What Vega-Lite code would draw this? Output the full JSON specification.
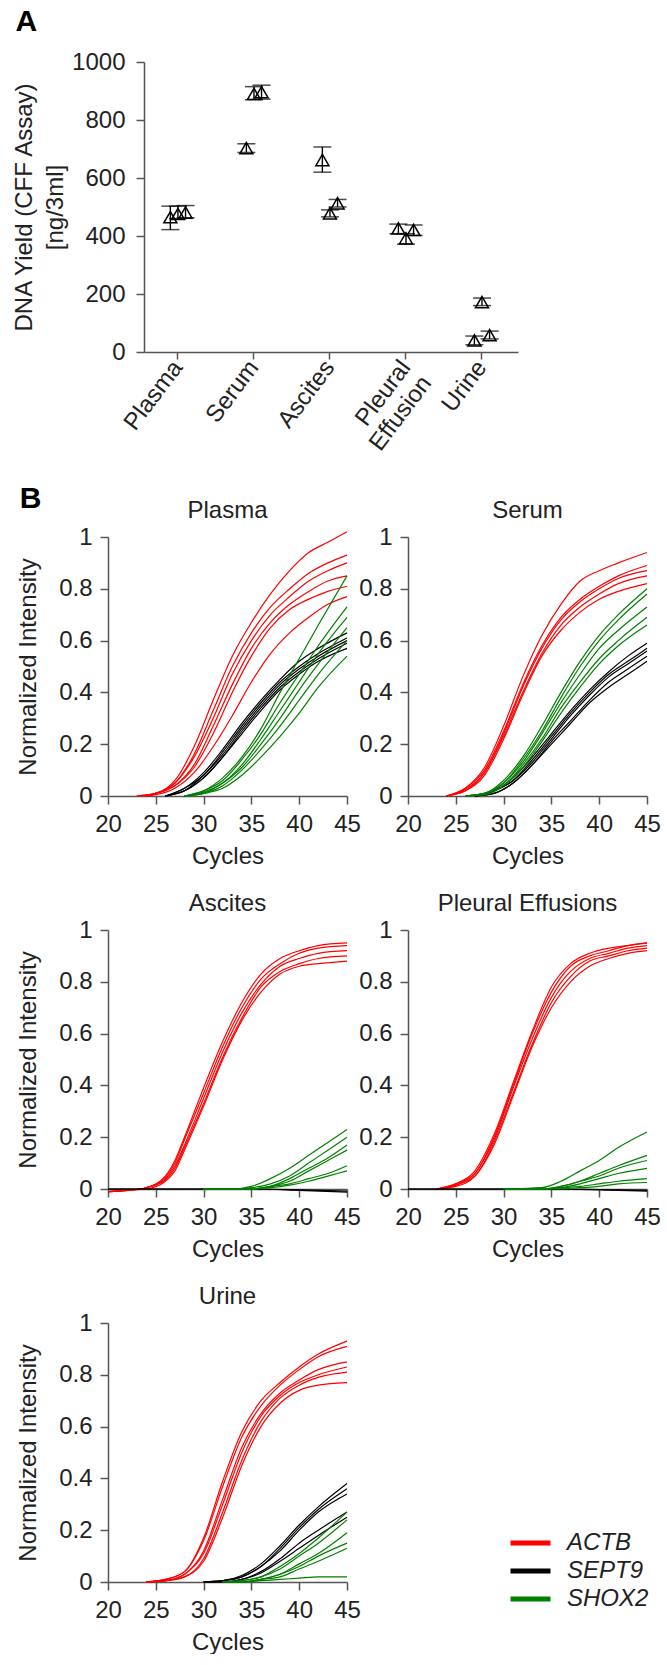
{
"$schema": "https://vega.github.io/schema/vega-lite/v6.json",
"padding": {"left": 12, "top": 7, "right": 0, "bottom": 0},
"background": "white",
"config": {
  "font": "Liberation Sans",
  "view": {"stroke": null},
  "axis": {"labelFontSize": 24, "titleFontSize": 24, "titleFontWeight": "normal", "labelColor": "#222", "titleColor": "#222", "domainColor": "#555", "tickColor": "#555", "domainWidth": 1.5, "tickWidth": 1.5, "tickSize": 8, "labelPadding": 8, "grid": false, "labelFlush": false, "labelOverlap": false},
  "title": {"fontSize": 24, "fontWeight": "normal", "color": "#222", "baseline": "alphabetic", "offset": 2}
},
"datasets": {
"yields": [
{"t":"Plasma","r":1,"m":465,"lo":422,"hi":503},
{"t":"Plasma","r":2,"m":476,"lo":460,"hi":503},
{"t":"Plasma","r":3,"m":481,"lo":463,"hi":505},
{"t":"Serum","r":1,"m":703,"lo":688,"hi":718},
{"t":"Serum","r":2,"m":890,"lo":870,"hi":915},
{"t":"Serum","r":3,"m":896,"lo":872,"hi":920},
{"t":"Ascites","r":1,"m":662,"lo":620,"hi":707},
{"t":"Ascites","r":2,"m":478,"lo":466,"hi":490},
{"t":"Ascites","r":3,"m":513,"lo":500,"hi":526},
{"t":"Pleural Effusion","r":1,"m":426,"lo":408,"hi":441},
{"t":"Pleural Effusion","r":2,"m":392,"lo":372,"hi":408},
{"t":"Pleural Effusion","r":3,"m":421,"lo":402,"hi":438},
{"t":"Urine","r":1,"m":40,"lo":25,"hi":55},
{"t":"Urine","r":2,"m":172,"lo":160,"hi":186},
{"t":"Urine","r":3,"m":58,"lo":45,"hi":72}
],
"curves": [
{"p":"Pl","g":"ACTB","k":1,"x":23,"y":0},{"p":"Pl","g":"ACTB","k":1,"x":25,"y":0.01},{"p":"Pl","g":"ACTB","k":1,"x":27,"y":0.06},{"p":"Pl","g":"ACTB","k":1,"x":29,"y":0.19},{"p":"Pl","g":"ACTB","k":1,"x":31,"y":0.37},{"p":"Pl","g":"ACTB","k":1,"x":33,"y":0.54},{"p":"Pl","g":"ACTB","k":1,"x":35,"y":0.67},{"p":"Pl","g":"ACTB","k":1,"x":37,"y":0.78},{"p":"Pl","g":"ACTB","k":1,"x":39,"y":0.87},{"p":"Pl","g":"ACTB","k":1,"x":41,"y":0.94},{"p":"Pl","g":"ACTB","k":1,"x":43,"y":0.98},{"p":"Pl","g":"ACTB","k":1,"x":45,"y":1.02},
{"p":"Pl","g":"ACTB","k":2,"x":23,"y":0},{"p":"Pl","g":"ACTB","k":2,"x":25,"y":0.01},{"p":"Pl","g":"ACTB","k":2,"x":27,"y":0.05},{"p":"Pl","g":"ACTB","k":2,"x":29,"y":0.16},{"p":"Pl","g":"ACTB","k":2,"x":31,"y":0.33},{"p":"Pl","g":"ACTB","k":2,"x":33,"y":0.5},{"p":"Pl","g":"ACTB","k":2,"x":35,"y":0.63},{"p":"Pl","g":"ACTB","k":2,"x":37,"y":0.73},{"p":"Pl","g":"ACTB","k":2,"x":39,"y":0.8},{"p":"Pl","g":"ACTB","k":2,"x":41,"y":0.86},{"p":"Pl","g":"ACTB","k":2,"x":43,"y":0.9},{"p":"Pl","g":"ACTB","k":2,"x":45,"y":0.93},
{"p":"Pl","g":"ACTB","k":3,"x":23.5,"y":0},{"p":"Pl","g":"ACTB","k":3,"x":25,"y":0.01},{"p":"Pl","g":"ACTB","k":3,"x":27,"y":0.05},{"p":"Pl","g":"ACTB","k":3,"x":29,"y":0.15},{"p":"Pl","g":"ACTB","k":3,"x":31,"y":0.3},{"p":"Pl","g":"ACTB","k":3,"x":33,"y":0.47},{"p":"Pl","g":"ACTB","k":3,"x":35,"y":0.6},{"p":"Pl","g":"ACTB","k":3,"x":37,"y":0.7},{"p":"Pl","g":"ACTB","k":3,"x":39,"y":0.77},{"p":"Pl","g":"ACTB","k":3,"x":41,"y":0.83},{"p":"Pl","g":"ACTB","k":3,"x":43,"y":0.87},{"p":"Pl","g":"ACTB","k":3,"x":45,"y":0.9},
{"p":"Pl","g":"ACTB","k":4,"x":24,"y":0},{"p":"Pl","g":"ACTB","k":4,"x":25,"y":0.01},{"p":"Pl","g":"ACTB","k":4,"x":27,"y":0.04},{"p":"Pl","g":"ACTB","k":4,"x":29,"y":0.12},{"p":"Pl","g":"ACTB","k":4,"x":31,"y":0.27},{"p":"Pl","g":"ACTB","k":4,"x":33,"y":0.43},{"p":"Pl","g":"ACTB","k":4,"x":35,"y":0.57},{"p":"Pl","g":"ACTB","k":4,"x":37,"y":0.67},{"p":"Pl","g":"ACTB","k":4,"x":39,"y":0.74},{"p":"Pl","g":"ACTB","k":4,"x":41,"y":0.79},{"p":"Pl","g":"ACTB","k":4,"x":43,"y":0.83},{"p":"Pl","g":"ACTB","k":4,"x":45,"y":0.85},
{"p":"Pl","g":"ACTB","k":5,"x":24,"y":0},{"p":"Pl","g":"ACTB","k":5,"x":25,"y":0.01},{"p":"Pl","g":"ACTB","k":5,"x":27,"y":0.04},{"p":"Pl","g":"ACTB","k":5,"x":29,"y":0.11},{"p":"Pl","g":"ACTB","k":5,"x":31,"y":0.24},{"p":"Pl","g":"ACTB","k":5,"x":33,"y":0.4},{"p":"Pl","g":"ACTB","k":5,"x":35,"y":0.54},{"p":"Pl","g":"ACTB","k":5,"x":37,"y":0.65},{"p":"Pl","g":"ACTB","k":5,"x":39,"y":0.72},{"p":"Pl","g":"ACTB","k":5,"x":41,"y":0.76},{"p":"Pl","g":"ACTB","k":5,"x":43,"y":0.79},{"p":"Pl","g":"ACTB","k":5,"x":45,"y":0.81},
{"p":"Pl","g":"ACTB","k":6,"x":24,"y":0},{"p":"Pl","g":"ACTB","k":6,"x":25,"y":0.005},{"p":"Pl","g":"ACTB","k":6,"x":27,"y":0.03},{"p":"Pl","g":"ACTB","k":6,"x":29,"y":0.09},{"p":"Pl","g":"ACTB","k":6,"x":31,"y":0.19},{"p":"Pl","g":"ACTB","k":6,"x":33,"y":0.31},{"p":"Pl","g":"ACTB","k":6,"x":35,"y":0.44},{"p":"Pl","g":"ACTB","k":6,"x":37,"y":0.55},{"p":"Pl","g":"ACTB","k":6,"x":39,"y":0.63},{"p":"Pl","g":"ACTB","k":6,"x":41,"y":0.69},{"p":"Pl","g":"ACTB","k":6,"x":43,"y":0.74},{"p":"Pl","g":"ACTB","k":6,"x":45,"y":0.77},
{"p":"Pl","g":"SEPT9","k":1,"x":26,"y":0},{"p":"Pl","g":"SEPT9","k":1,"x":28,"y":0.03},{"p":"Pl","g":"SEPT9","k":1,"x":30,"y":0.09},{"p":"Pl","g":"SEPT9","k":1,"x":32,"y":0.18},{"p":"Pl","g":"SEPT9","k":1,"x":34,"y":0.28},{"p":"Pl","g":"SEPT9","k":1,"x":36,"y":0.37},{"p":"Pl","g":"SEPT9","k":1,"x":38,"y":0.45},{"p":"Pl","g":"SEPT9","k":1,"x":40,"y":0.52},{"p":"Pl","g":"SEPT9","k":1,"x":42,"y":0.57},{"p":"Pl","g":"SEPT9","k":1,"x":45,"y":0.63},
{"p":"Pl","g":"SEPT9","k":2,"x":26,"y":0},{"p":"Pl","g":"SEPT9","k":2,"x":28,"y":0.03},{"p":"Pl","g":"SEPT9","k":2,"x":30,"y":0.08},{"p":"Pl","g":"SEPT9","k":2,"x":32,"y":0.17},{"p":"Pl","g":"SEPT9","k":2,"x":34,"y":0.27},{"p":"Pl","g":"SEPT9","k":2,"x":36,"y":0.36},{"p":"Pl","g":"SEPT9","k":2,"x":38,"y":0.44},{"p":"Pl","g":"SEPT9","k":2,"x":40,"y":0.5},{"p":"Pl","g":"SEPT9","k":2,"x":42,"y":0.55},{"p":"Pl","g":"SEPT9","k":2,"x":45,"y":0.61},
{"p":"Pl","g":"SEPT9","k":3,"x":26,"y":0},{"p":"Pl","g":"SEPT9","k":3,"x":28,"y":0.02},{"p":"Pl","g":"SEPT9","k":3,"x":30,"y":0.08},{"p":"Pl","g":"SEPT9","k":3,"x":32,"y":0.16},{"p":"Pl","g":"SEPT9","k":3,"x":34,"y":0.26},{"p":"Pl","g":"SEPT9","k":3,"x":36,"y":0.35},{"p":"Pl","g":"SEPT9","k":3,"x":38,"y":0.43},{"p":"Pl","g":"SEPT9","k":3,"x":40,"y":0.49},{"p":"Pl","g":"SEPT9","k":3,"x":42,"y":0.54},{"p":"Pl","g":"SEPT9","k":3,"x":45,"y":0.6},
{"p":"Pl","g":"SEPT9","k":4,"x":26,"y":0},{"p":"Pl","g":"SEPT9","k":4,"x":28,"y":0.02},{"p":"Pl","g":"SEPT9","k":4,"x":30,"y":0.07},{"p":"Pl","g":"SEPT9","k":4,"x":32,"y":0.15},{"p":"Pl","g":"SEPT9","k":4,"x":34,"y":0.24},{"p":"Pl","g":"SEPT9","k":4,"x":36,"y":0.33},{"p":"Pl","g":"SEPT9","k":4,"x":38,"y":0.41},{"p":"Pl","g":"SEPT9","k":4,"x":40,"y":0.47},{"p":"Pl","g":"SEPT9","k":4,"x":42,"y":0.52},{"p":"Pl","g":"SEPT9","k":4,"x":45,"y":0.57},
{"p":"Pl","g":"SEPT9","k":5,"x":26,"y":0},{"p":"Pl","g":"SEPT9","k":5,"x":28,"y":0.02},{"p":"Pl","g":"SEPT9","k":5,"x":30,"y":0.07},{"p":"Pl","g":"SEPT9","k":5,"x":32,"y":0.15},{"p":"Pl","g":"SEPT9","k":5,"x":34,"y":0.25},{"p":"Pl","g":"SEPT9","k":5,"x":36,"y":0.34},{"p":"Pl","g":"SEPT9","k":5,"x":38,"y":0.42},{"p":"Pl","g":"SEPT9","k":5,"x":40,"y":0.48},{"p":"Pl","g":"SEPT9","k":5,"x":42,"y":0.53},{"p":"Pl","g":"SEPT9","k":5,"x":45,"y":0.59},
{"p":"Pl","g":"SHOX2","k":1,"x":28,"y":0},{"p":"Pl","g":"SHOX2","k":1,"x":30,"y":0.02},{"p":"Pl","g":"SHOX2","k":1,"x":32,"y":0.07},{"p":"Pl","g":"SHOX2","k":1,"x":34,"y":0.15},{"p":"Pl","g":"SHOX2","k":1,"x":36,"y":0.26},{"p":"Pl","g":"SHOX2","k":1,"x":38,"y":0.4},{"p":"Pl","g":"SHOX2","k":1,"x":40,"y":0.53},{"p":"Pl","g":"SHOX2","k":1,"x":42,"y":0.66},{"p":"Pl","g":"SHOX2","k":1,"x":45,"y":0.85},
{"p":"Pl","g":"SHOX2","k":2,"x":28,"y":0},{"p":"Pl","g":"SHOX2","k":2,"x":30,"y":0.02},{"p":"Pl","g":"SHOX2","k":2,"x":32,"y":0.06},{"p":"Pl","g":"SHOX2","k":2,"x":34,"y":0.14},{"p":"Pl","g":"SHOX2","k":2,"x":36,"y":0.24},{"p":"Pl","g":"SHOX2","k":2,"x":38,"y":0.36},{"p":"Pl","g":"SHOX2","k":2,"x":40,"y":0.47},{"p":"Pl","g":"SHOX2","k":2,"x":42,"y":0.58},{"p":"Pl","g":"SHOX2","k":2,"x":45,"y":0.73},
{"p":"Pl","g":"SHOX2","k":3,"x":28,"y":0},{"p":"Pl","g":"SHOX2","k":3,"x":30,"y":0.015},{"p":"Pl","g":"SHOX2","k":3,"x":32,"y":0.05},{"p":"Pl","g":"SHOX2","k":3,"x":34,"y":0.12},{"p":"Pl","g":"SHOX2","k":3,"x":36,"y":0.22},{"p":"Pl","g":"SHOX2","k":3,"x":38,"y":0.33},{"p":"Pl","g":"SHOX2","k":3,"x":40,"y":0.44},{"p":"Pl","g":"SHOX2","k":3,"x":42,"y":0.55},{"p":"Pl","g":"SHOX2","k":3,"x":45,"y":0.69},
{"p":"Pl","g":"SHOX2","k":4,"x":28,"y":0},{"p":"Pl","g":"SHOX2","k":4,"x":30,"y":0.01},{"p":"Pl","g":"SHOX2","k":4,"x":32,"y":0.05},{"p":"Pl","g":"SHOX2","k":4,"x":34,"y":0.11},{"p":"Pl","g":"SHOX2","k":4,"x":36,"y":0.2},{"p":"Pl","g":"SHOX2","k":4,"x":38,"y":0.3},{"p":"Pl","g":"SHOX2","k":4,"x":40,"y":0.41},{"p":"Pl","g":"SHOX2","k":4,"x":42,"y":0.51},{"p":"Pl","g":"SHOX2","k":4,"x":45,"y":0.65},
{"p":"Pl","g":"SHOX2","k":5,"x":28,"y":0},{"p":"Pl","g":"SHOX2","k":5,"x":30,"y":0.01},{"p":"Pl","g":"SHOX2","k":5,"x":32,"y":0.04},{"p":"Pl","g":"SHOX2","k":5,"x":34,"y":0.1},{"p":"Pl","g":"SHOX2","k":5,"x":36,"y":0.18},{"p":"Pl","g":"SHOX2","k":5,"x":38,"y":0.27},{"p":"Pl","g":"SHOX2","k":5,"x":40,"y":0.37},{"p":"Pl","g":"SHOX2","k":5,"x":42,"y":0.47},{"p":"Pl","g":"SHOX2","k":5,"x":45,"y":0.6},
{"p":"Pl","g":"SHOX2","k":6,"x":28,"y":0},{"p":"Pl","g":"SHOX2","k":6,"x":30,"y":0.01},{"p":"Pl","g":"SHOX2","k":6,"x":32,"y":0.03},{"p":"Pl","g":"SHOX2","k":6,"x":34,"y":0.08},{"p":"Pl","g":"SHOX2","k":6,"x":36,"y":0.15},{"p":"Pl","g":"SHOX2","k":6,"x":38,"y":0.23},{"p":"Pl","g":"SHOX2","k":6,"x":40,"y":0.32},{"p":"Pl","g":"SHOX2","k":6,"x":42,"y":0.42},{"p":"Pl","g":"SHOX2","k":6,"x":45,"y":0.54},
{"p":"Se","g":"ACTB","k":1,"x":24,"y":0},{"p":"Se","g":"ACTB","k":1,"x":26,"y":0.03},{"p":"Se","g":"ACTB","k":1,"x":28,"y":0.11},{"p":"Se","g":"ACTB","k":1,"x":30,"y":0.27},{"p":"Se","g":"ACTB","k":1,"x":32,"y":0.46},{"p":"Se","g":"ACTB","k":1,"x":34,"y":0.62},{"p":"Se","g":"ACTB","k":1,"x":36,"y":0.74},{"p":"Se","g":"ACTB","k":1,"x":38,"y":0.83},{"p":"Se","g":"ACTB","k":1,"x":40,"y":0.87},{"p":"Se","g":"ACTB","k":1,"x":42,"y":0.9},{"p":"Se","g":"ACTB","k":1,"x":45,"y":0.94},
{"p":"Se","g":"ACTB","k":2,"x":24,"y":0},{"p":"Se","g":"ACTB","k":2,"x":26,"y":0.03},{"p":"Se","g":"ACTB","k":2,"x":28,"y":0.1},{"p":"Se","g":"ACTB","k":2,"x":30,"y":0.25},{"p":"Se","g":"ACTB","k":2,"x":32,"y":0.43},{"p":"Se","g":"ACTB","k":2,"x":34,"y":0.58},{"p":"Se","g":"ACTB","k":2,"x":36,"y":0.69},{"p":"Se","g":"ACTB","k":2,"x":38,"y":0.76},{"p":"Se","g":"ACTB","k":2,"x":40,"y":0.81},{"p":"Se","g":"ACTB","k":2,"x":42,"y":0.85},{"p":"Se","g":"ACTB","k":2,"x":45,"y":0.89},
{"p":"Se","g":"ACTB","k":3,"x":24,"y":0},{"p":"Se","g":"ACTB","k":3,"x":26,"y":0.025},{"p":"Se","g":"ACTB","k":3,"x":28,"y":0.09},{"p":"Se","g":"ACTB","k":3,"x":30,"y":0.24},{"p":"Se","g":"ACTB","k":3,"x":32,"y":0.42},{"p":"Se","g":"ACTB","k":3,"x":34,"y":0.57},{"p":"Se","g":"ACTB","k":3,"x":36,"y":0.68},{"p":"Se","g":"ACTB","k":3,"x":38,"y":0.75},{"p":"Se","g":"ACTB","k":3,"x":40,"y":0.8},{"p":"Se","g":"ACTB","k":3,"x":42,"y":0.84},{"p":"Se","g":"ACTB","k":3,"x":45,"y":0.87},
{"p":"Se","g":"ACTB","k":4,"x":24,"y":0},{"p":"Se","g":"ACTB","k":4,"x":26,"y":0.02},{"p":"Se","g":"ACTB","k":4,"x":28,"y":0.09},{"p":"Se","g":"ACTB","k":4,"x":30,"y":0.23},{"p":"Se","g":"ACTB","k":4,"x":32,"y":0.4},{"p":"Se","g":"ACTB","k":4,"x":34,"y":0.55},{"p":"Se","g":"ACTB","k":4,"x":36,"y":0.66},{"p":"Se","g":"ACTB","k":4,"x":38,"y":0.73},{"p":"Se","g":"ACTB","k":4,"x":40,"y":0.78},{"p":"Se","g":"ACTB","k":4,"x":42,"y":0.82},{"p":"Se","g":"ACTB","k":4,"x":45,"y":0.85},
{"p":"Se","g":"ACTB","k":5,"x":24,"y":0},{"p":"Se","g":"ACTB","k":5,"x":26,"y":0.02},{"p":"Se","g":"ACTB","k":5,"x":28,"y":0.08},{"p":"Se","g":"ACTB","k":5,"x":30,"y":0.22},{"p":"Se","g":"ACTB","k":5,"x":32,"y":0.39},{"p":"Se","g":"ACTB","k":5,"x":34,"y":0.54},{"p":"Se","g":"ACTB","k":5,"x":36,"y":0.64},{"p":"Se","g":"ACTB","k":5,"x":38,"y":0.71},{"p":"Se","g":"ACTB","k":5,"x":40,"y":0.76},{"p":"Se","g":"ACTB","k":5,"x":42,"y":0.79},{"p":"Se","g":"ACTB","k":5,"x":45,"y":0.82},
{"p":"Se","g":"SEPT9","k":1,"x":27,"y":0},{"p":"Se","g":"SEPT9","k":1,"x":29,"y":0.02},{"p":"Se","g":"SEPT9","k":1,"x":31,"y":0.07},{"p":"Se","g":"SEPT9","k":1,"x":33,"y":0.15},{"p":"Se","g":"SEPT9","k":1,"x":35,"y":0.24},{"p":"Se","g":"SEPT9","k":1,"x":37,"y":0.33},{"p":"Se","g":"SEPT9","k":1,"x":39,"y":0.41},{"p":"Se","g":"SEPT9","k":1,"x":41,"y":0.48},{"p":"Se","g":"SEPT9","k":1,"x":43,"y":0.54},{"p":"Se","g":"SEPT9","k":1,"x":45,"y":0.59},
{"p":"Se","g":"SEPT9","k":2,"x":27,"y":0},{"p":"Se","g":"SEPT9","k":2,"x":29,"y":0.02},{"p":"Se","g":"SEPT9","k":2,"x":31,"y":0.06},{"p":"Se","g":"SEPT9","k":2,"x":33,"y":0.14},{"p":"Se","g":"SEPT9","k":2,"x":35,"y":0.23},{"p":"Se","g":"SEPT9","k":2,"x":37,"y":0.32},{"p":"Se","g":"SEPT9","k":2,"x":39,"y":0.4},{"p":"Se","g":"SEPT9","k":2,"x":41,"y":0.47},{"p":"Se","g":"SEPT9","k":2,"x":43,"y":0.52},{"p":"Se","g":"SEPT9","k":2,"x":45,"y":0.57},
{"p":"Se","g":"SEPT9","k":3,"x":27,"y":0},{"p":"Se","g":"SEPT9","k":3,"x":29,"y":0.02},{"p":"Se","g":"SEPT9","k":3,"x":31,"y":0.06},{"p":"Se","g":"SEPT9","k":3,"x":33,"y":0.13},{"p":"Se","g":"SEPT9","k":3,"x":35,"y":0.22},{"p":"Se","g":"SEPT9","k":3,"x":37,"y":0.31},{"p":"Se","g":"SEPT9","k":3,"x":39,"y":0.39},{"p":"Se","g":"SEPT9","k":3,"x":41,"y":0.46},{"p":"Se","g":"SEPT9","k":3,"x":43,"y":0.51},{"p":"Se","g":"SEPT9","k":3,"x":45,"y":0.56},
{"p":"Se","g":"SEPT9","k":4,"x":27,"y":0},{"p":"Se","g":"SEPT9","k":4,"x":29,"y":0.01},{"p":"Se","g":"SEPT9","k":4,"x":31,"y":0.05},{"p":"Se","g":"SEPT9","k":4,"x":33,"y":0.12},{"p":"Se","g":"SEPT9","k":4,"x":35,"y":0.21},{"p":"Se","g":"SEPT9","k":4,"x":37,"y":0.29},{"p":"Se","g":"SEPT9","k":4,"x":39,"y":0.37},{"p":"Se","g":"SEPT9","k":4,"x":41,"y":0.44},{"p":"Se","g":"SEPT9","k":4,"x":43,"y":0.49},{"p":"Se","g":"SEPT9","k":4,"x":45,"y":0.54},
{"p":"Se","g":"SEPT9","k":5,"x":27,"y":0},{"p":"Se","g":"SEPT9","k":5,"x":29,"y":0.01},{"p":"Se","g":"SEPT9","k":5,"x":31,"y":0.05},{"p":"Se","g":"SEPT9","k":5,"x":33,"y":0.12},{"p":"Se","g":"SEPT9","k":5,"x":35,"y":0.2},{"p":"Se","g":"SEPT9","k":5,"x":37,"y":0.28},{"p":"Se","g":"SEPT9","k":5,"x":39,"y":0.36},{"p":"Se","g":"SEPT9","k":5,"x":41,"y":0.42},{"p":"Se","g":"SEPT9","k":5,"x":43,"y":0.47},{"p":"Se","g":"SEPT9","k":5,"x":45,"y":0.52},
{"p":"Se","g":"SHOX2","k":1,"x":26,"y":0},{"p":"Se","g":"SHOX2","k":1,"x":28,"y":0.01},{"p":"Se","g":"SHOX2","k":1,"x":30,"y":0.06},{"p":"Se","g":"SHOX2","k":1,"x":32,"y":0.15},{"p":"Se","g":"SHOX2","k":1,"x":34,"y":0.27},{"p":"Se","g":"SHOX2","k":1,"x":36,"y":0.4},{"p":"Se","g":"SHOX2","k":1,"x":38,"y":0.52},{"p":"Se","g":"SHOX2","k":1,"x":40,"y":0.62},{"p":"Se","g":"SHOX2","k":1,"x":42,"y":0.7},{"p":"Se","g":"SHOX2","k":1,"x":45,"y":0.8},
{"p":"Se","g":"SHOX2","k":2,"x":26,"y":0},{"p":"Se","g":"SHOX2","k":2,"x":28,"y":0.01},{"p":"Se","g":"SHOX2","k":2,"x":30,"y":0.05},{"p":"Se","g":"SHOX2","k":2,"x":32,"y":0.14},{"p":"Se","g":"SHOX2","k":2,"x":34,"y":0.25},{"p":"Se","g":"SHOX2","k":2,"x":36,"y":0.38},{"p":"Se","g":"SHOX2","k":2,"x":38,"y":0.5},{"p":"Se","g":"SHOX2","k":2,"x":40,"y":0.6},{"p":"Se","g":"SHOX2","k":2,"x":42,"y":0.68},{"p":"Se","g":"SHOX2","k":2,"x":45,"y":0.78},
{"p":"Se","g":"SHOX2","k":3,"x":26,"y":0},{"p":"Se","g":"SHOX2","k":3,"x":28,"y":0.01},{"p":"Se","g":"SHOX2","k":3,"x":30,"y":0.05},{"p":"Se","g":"SHOX2","k":3,"x":32,"y":0.13},{"p":"Se","g":"SHOX2","k":3,"x":34,"y":0.24},{"p":"Se","g":"SHOX2","k":3,"x":36,"y":0.36},{"p":"Se","g":"SHOX2","k":3,"x":38,"y":0.47},{"p":"Se","g":"SHOX2","k":3,"x":40,"y":0.57},{"p":"Se","g":"SHOX2","k":3,"x":42,"y":0.64},{"p":"Se","g":"SHOX2","k":3,"x":45,"y":0.73},
{"p":"Se","g":"SHOX2","k":4,"x":26,"y":0},{"p":"Se","g":"SHOX2","k":4,"x":28,"y":0.01},{"p":"Se","g":"SHOX2","k":4,"x":30,"y":0.04},{"p":"Se","g":"SHOX2","k":4,"x":32,"y":0.12},{"p":"Se","g":"SHOX2","k":4,"x":34,"y":0.22},{"p":"Se","g":"SHOX2","k":4,"x":36,"y":0.34},{"p":"Se","g":"SHOX2","k":4,"x":38,"y":0.44},{"p":"Se","g":"SHOX2","k":4,"x":40,"y":0.53},{"p":"Se","g":"SHOX2","k":4,"x":42,"y":0.6},{"p":"Se","g":"SHOX2","k":4,"x":45,"y":0.69},
{"p":"Se","g":"SHOX2","k":5,"x":26,"y":0},{"p":"Se","g":"SHOX2","k":5,"x":28,"y":0.005},{"p":"Se","g":"SHOX2","k":5,"x":30,"y":0.04},{"p":"Se","g":"SHOX2","k":5,"x":32,"y":0.11},{"p":"Se","g":"SHOX2","k":5,"x":34,"y":0.21},{"p":"Se","g":"SHOX2","k":5,"x":36,"y":0.32},{"p":"Se","g":"SHOX2","k":5,"x":38,"y":0.42},{"p":"Se","g":"SHOX2","k":5,"x":40,"y":0.51},{"p":"Se","g":"SHOX2","k":5,"x":42,"y":0.58},{"p":"Se","g":"SHOX2","k":5,"x":45,"y":0.66},
{"p":"As","g":"ACTB","k":1,"x":20,"y":-0.01},{"p":"As","g":"ACTB","k":1,"x":22,"y":-0.005},{"p":"As","g":"ACTB","k":1,"x":24,"y":0.005},{"p":"As","g":"ACTB","k":1,"x":26,"y":0.05},{"p":"As","g":"ACTB","k":1,"x":27,"y":0.11},{"p":"As","g":"ACTB","k":1,"x":28,"y":0.2},{"p":"As","g":"ACTB","k":1,"x":30,"y":0.39},{"p":"As","g":"ACTB","k":1,"x":32,"y":0.57},{"p":"As","g":"ACTB","k":1,"x":34,"y":0.72},{"p":"As","g":"ACTB","k":1,"x":36,"y":0.83},{"p":"As","g":"ACTB","k":1,"x":38,"y":0.89},{"p":"As","g":"ACTB","k":1,"x":40,"y":0.92},{"p":"As","g":"ACTB","k":1,"x":42,"y":0.94},{"p":"As","g":"ACTB","k":1,"x":45,"y":0.95},
{"p":"As","g":"ACTB","k":2,"x":20,"y":-0.01},{"p":"As","g":"ACTB","k":2,"x":22,"y":-0.005},{"p":"As","g":"ACTB","k":2,"x":24,"y":0.005},{"p":"As","g":"ACTB","k":2,"x":26,"y":0.045},{"p":"As","g":"ACTB","k":2,"x":27,"y":0.1},{"p":"As","g":"ACTB","k":2,"x":28,"y":0.19},{"p":"As","g":"ACTB","k":2,"x":30,"y":0.37},{"p":"As","g":"ACTB","k":2,"x":32,"y":0.55},{"p":"As","g":"ACTB","k":2,"x":34,"y":0.7},{"p":"As","g":"ACTB","k":2,"x":36,"y":0.81},{"p":"As","g":"ACTB","k":2,"x":38,"y":0.87},{"p":"As","g":"ACTB","k":2,"x":40,"y":0.91},{"p":"As","g":"ACTB","k":2,"x":42,"y":0.93},{"p":"As","g":"ACTB","k":2,"x":45,"y":0.94},
{"p":"As","g":"ACTB","k":3,"x":20,"y":-0.01},{"p":"As","g":"ACTB","k":3,"x":22,"y":-0.005},{"p":"As","g":"ACTB","k":3,"x":24,"y":0.005},{"p":"As","g":"ACTB","k":3,"x":26,"y":0.04},{"p":"As","g":"ACTB","k":3,"x":27,"y":0.09},{"p":"As","g":"ACTB","k":3,"x":28,"y":0.17},{"p":"As","g":"ACTB","k":3,"x":30,"y":0.35},{"p":"As","g":"ACTB","k":3,"x":32,"y":0.53},{"p":"As","g":"ACTB","k":3,"x":34,"y":0.68},{"p":"As","g":"ACTB","k":3,"x":36,"y":0.79},{"p":"As","g":"ACTB","k":3,"x":38,"y":0.86},{"p":"As","g":"ACTB","k":3,"x":40,"y":0.89},{"p":"As","g":"ACTB","k":3,"x":42,"y":0.91},{"p":"As","g":"ACTB","k":3,"x":45,"y":0.92},
{"p":"As","g":"ACTB","k":4,"x":20,"y":-0.01},{"p":"As","g":"ACTB","k":4,"x":22,"y":-0.005},{"p":"As","g":"ACTB","k":4,"x":24,"y":0.005},{"p":"As","g":"ACTB","k":4,"x":26,"y":0.035},{"p":"As","g":"ACTB","k":4,"x":27,"y":0.08},{"p":"As","g":"ACTB","k":4,"x":28,"y":0.16},{"p":"As","g":"ACTB","k":4,"x":30,"y":0.33},{"p":"As","g":"ACTB","k":4,"x":32,"y":0.51},{"p":"As","g":"ACTB","k":4,"x":34,"y":0.66},{"p":"As","g":"ACTB","k":4,"x":36,"y":0.78},{"p":"As","g":"ACTB","k":4,"x":38,"y":0.84},{"p":"As","g":"ACTB","k":4,"x":40,"y":0.87},{"p":"As","g":"ACTB","k":4,"x":42,"y":0.89},{"p":"As","g":"ACTB","k":4,"x":45,"y":0.9},
{"p":"As","g":"ACTB","k":5,"x":20,"y":-0.01},{"p":"As","g":"ACTB","k":5,"x":22,"y":-0.005},{"p":"As","g":"ACTB","k":5,"x":24,"y":0},{"p":"As","g":"ACTB","k":5,"x":26,"y":0.03},{"p":"As","g":"ACTB","k":5,"x":27,"y":0.07},{"p":"As","g":"ACTB","k":5,"x":28,"y":0.15},{"p":"As","g":"ACTB","k":5,"x":30,"y":0.32},{"p":"As","g":"ACTB","k":5,"x":32,"y":0.5},{"p":"As","g":"ACTB","k":5,"x":34,"y":0.65},{"p":"As","g":"ACTB","k":5,"x":36,"y":0.76},{"p":"As","g":"ACTB","k":5,"x":38,"y":0.83},{"p":"As","g":"ACTB","k":5,"x":40,"y":0.86},{"p":"As","g":"ACTB","k":5,"x":42,"y":0.87},{"p":"As","g":"ACTB","k":5,"x":45,"y":0.88},
{"p":"As","g":"SEPT9","k":1,"x":20,"y":0},{"p":"As","g":"SEPT9","k":1,"x":35,"y":0},{"p":"As","g":"SEPT9","k":1,"x":40,"y":-0.005},{"p":"As","g":"SEPT9","k":1,"x":45,"y":-0.012},
{"p":"As","g":"SEPT9","k":2,"x":20,"y":0},{"p":"As","g":"SEPT9","k":2,"x":35,"y":0},{"p":"As","g":"SEPT9","k":2,"x":40,"y":-0.003},{"p":"As","g":"SEPT9","k":2,"x":45,"y":-0.008},
{"p":"As","g":"SHOX2","k":1,"x":30,"y":0},{"p":"As","g":"SHOX2","k":1,"x":33,"y":0},{"p":"As","g":"SHOX2","k":1,"x":35,"y":0.01},{"p":"As","g":"SHOX2","k":1,"x":37,"y":0.04},{"p":"As","g":"SHOX2","k":1,"x":39,"y":0.08},{"p":"As","g":"SHOX2","k":1,"x":41,"y":0.13},{"p":"As","g":"SHOX2","k":1,"x":43,"y":0.18},{"p":"As","g":"SHOX2","k":1,"x":45,"y":0.23},
{"p":"As","g":"SHOX2","k":2,"x":30,"y":0},{"p":"As","g":"SHOX2","k":2,"x":33,"y":0},{"p":"As","g":"SHOX2","k":2,"x":35,"y":0.005},{"p":"As","g":"SHOX2","k":2,"x":37,"y":0.02},{"p":"As","g":"SHOX2","k":2,"x":39,"y":0.05},{"p":"As","g":"SHOX2","k":2,"x":41,"y":0.1},{"p":"As","g":"SHOX2","k":2,"x":43,"y":0.15},{"p":"As","g":"SHOX2","k":2,"x":45,"y":0.2},
{"p":"As","g":"SHOX2","k":3,"x":30,"y":0},{"p":"As","g":"SHOX2","k":3,"x":33,"y":0},{"p":"As","g":"SHOX2","k":3,"x":35,"y":0},{"p":"As","g":"SHOX2","k":3,"x":37,"y":0.01},{"p":"As","g":"SHOX2","k":3,"x":39,"y":0.04},{"p":"As","g":"SHOX2","k":3,"x":41,"y":0.08},{"p":"As","g":"SHOX2","k":3,"x":43,"y":0.12},{"p":"As","g":"SHOX2","k":3,"x":45,"y":0.17},
{"p":"As","g":"SHOX2","k":4,"x":30,"y":0},{"p":"As","g":"SHOX2","k":4,"x":33,"y":0},{"p":"As","g":"SHOX2","k":4,"x":35,"y":0},{"p":"As","g":"SHOX2","k":4,"x":37,"y":0.01},{"p":"As","g":"SHOX2","k":4,"x":39,"y":0.03},{"p":"As","g":"SHOX2","k":4,"x":41,"y":0.07},{"p":"As","g":"SHOX2","k":4,"x":43,"y":0.11},{"p":"As","g":"SHOX2","k":4,"x":45,"y":0.15},
{"p":"As","g":"SHOX2","k":5,"x":30,"y":0},{"p":"As","g":"SHOX2","k":5,"x":33,"y":0},{"p":"As","g":"SHOX2","k":5,"x":35,"y":0},{"p":"As","g":"SHOX2","k":5,"x":37,"y":0.01},{"p":"As","g":"SHOX2","k":5,"x":39,"y":0.02},{"p":"As","g":"SHOX2","k":5,"x":41,"y":0.04},{"p":"As","g":"SHOX2","k":5,"x":43,"y":0.06},{"p":"As","g":"SHOX2","k":5,"x":45,"y":0.09},
{"p":"As","g":"SHOX2","k":6,"x":30,"y":0},{"p":"As","g":"SHOX2","k":6,"x":33,"y":0},{"p":"As","g":"SHOX2","k":6,"x":35,"y":0},{"p":"As","g":"SHOX2","k":6,"x":37,"y":0.005},{"p":"As","g":"SHOX2","k":6,"x":39,"y":0.015},{"p":"As","g":"SHOX2","k":6,"x":41,"y":0.03},{"p":"As","g":"SHOX2","k":6,"x":43,"y":0.05},{"p":"As","g":"SHOX2","k":6,"x":45,"y":0.07},
{"p":"PE","g":"ACTB","k":1,"x":23,"y":0},{"p":"PE","g":"ACTB","k":1,"x":25,"y":0.02},{"p":"PE","g":"ACTB","k":1,"x":27,"y":0.07},{"p":"PE","g":"ACTB","k":1,"x":29,"y":0.21},{"p":"PE","g":"ACTB","k":1,"x":31,"y":0.41},{"p":"PE","g":"ACTB","k":1,"x":33,"y":0.61},{"p":"PE","g":"ACTB","k":1,"x":35,"y":0.78},{"p":"PE","g":"ACTB","k":1,"x":37,"y":0.87},{"p":"PE","g":"ACTB","k":1,"x":39,"y":0.91},{"p":"PE","g":"ACTB","k":1,"x":41,"y":0.93},{"p":"PE","g":"ACTB","k":1,"x":43,"y":0.94},{"p":"PE","g":"ACTB","k":1,"x":45,"y":0.95},
{"p":"PE","g":"ACTB","k":2,"x":23,"y":0},{"p":"PE","g":"ACTB","k":2,"x":25,"y":0.02},{"p":"PE","g":"ACTB","k":2,"x":27,"y":0.06},{"p":"PE","g":"ACTB","k":2,"x":29,"y":0.2},{"p":"PE","g":"ACTB","k":2,"x":31,"y":0.4},{"p":"PE","g":"ACTB","k":2,"x":33,"y":0.6},{"p":"PE","g":"ACTB","k":2,"x":35,"y":0.76},{"p":"PE","g":"ACTB","k":2,"x":37,"y":0.86},{"p":"PE","g":"ACTB","k":2,"x":39,"y":0.9},{"p":"PE","g":"ACTB","k":2,"x":41,"y":0.92},{"p":"PE","g":"ACTB","k":2,"x":43,"y":0.94},{"p":"PE","g":"ACTB","k":2,"x":45,"y":0.95},
{"p":"PE","g":"ACTB","k":3,"x":23,"y":0},{"p":"PE","g":"ACTB","k":3,"x":25,"y":0.015},{"p":"PE","g":"ACTB","k":3,"x":27,"y":0.06},{"p":"PE","g":"ACTB","k":3,"x":29,"y":0.19},{"p":"PE","g":"ACTB","k":3,"x":31,"y":0.39},{"p":"PE","g":"ACTB","k":3,"x":33,"y":0.58},{"p":"PE","g":"ACTB","k":3,"x":35,"y":0.74},{"p":"PE","g":"ACTB","k":3,"x":37,"y":0.84},{"p":"PE","g":"ACTB","k":3,"x":39,"y":0.89},{"p":"PE","g":"ACTB","k":3,"x":41,"y":0.91},{"p":"PE","g":"ACTB","k":3,"x":43,"y":0.93},{"p":"PE","g":"ACTB","k":3,"x":45,"y":0.94},
{"p":"PE","g":"ACTB","k":4,"x":23,"y":0},{"p":"PE","g":"ACTB","k":4,"x":25,"y":0.015},{"p":"PE","g":"ACTB","k":4,"x":27,"y":0.05},{"p":"PE","g":"ACTB","k":4,"x":29,"y":0.18},{"p":"PE","g":"ACTB","k":4,"x":31,"y":0.37},{"p":"PE","g":"ACTB","k":4,"x":33,"y":0.56},{"p":"PE","g":"ACTB","k":4,"x":35,"y":0.72},{"p":"PE","g":"ACTB","k":4,"x":37,"y":0.82},{"p":"PE","g":"ACTB","k":4,"x":39,"y":0.88},{"p":"PE","g":"ACTB","k":4,"x":41,"y":0.9},{"p":"PE","g":"ACTB","k":4,"x":43,"y":0.92},{"p":"PE","g":"ACTB","k":4,"x":45,"y":0.93},
{"p":"PE","g":"ACTB","k":5,"x":23,"y":0},{"p":"PE","g":"ACTB","k":5,"x":25,"y":0.01},{"p":"PE","g":"ACTB","k":5,"x":27,"y":0.05},{"p":"PE","g":"ACTB","k":5,"x":29,"y":0.17},{"p":"PE","g":"ACTB","k":5,"x":31,"y":0.36},{"p":"PE","g":"ACTB","k":5,"x":33,"y":0.55},{"p":"PE","g":"ACTB","k":5,"x":35,"y":0.7},{"p":"PE","g":"ACTB","k":5,"x":37,"y":0.8},{"p":"PE","g":"ACTB","k":5,"x":39,"y":0.86},{"p":"PE","g":"ACTB","k":5,"x":41,"y":0.89},{"p":"PE","g":"ACTB","k":5,"x":43,"y":0.91},{"p":"PE","g":"ACTB","k":5,"x":45,"y":0.92},
{"p":"PE","g":"SEPT9","k":1,"x":20,"y":0},{"p":"PE","g":"SEPT9","k":1,"x":35,"y":0},{"p":"PE","g":"SEPT9","k":1,"x":40,"y":-0.003},{"p":"PE","g":"SEPT9","k":1,"x":45,"y":-0.008},
{"p":"PE","g":"SEPT9","k":2,"x":20,"y":0},{"p":"PE","g":"SEPT9","k":2,"x":35,"y":0},{"p":"PE","g":"SEPT9","k":2,"x":40,"y":-0.002},{"p":"PE","g":"SEPT9","k":2,"x":45,"y":-0.005},
{"p":"PE","g":"SHOX2","k":1,"x":30,"y":0},{"p":"PE","g":"SHOX2","k":1,"x":34,"y":0.005},{"p":"PE","g":"SHOX2","k":1,"x":36,"y":0.03},{"p":"PE","g":"SHOX2","k":1,"x":38,"y":0.07},{"p":"PE","g":"SHOX2","k":1,"x":40,"y":0.11},{"p":"PE","g":"SHOX2","k":1,"x":42,"y":0.16},{"p":"PE","g":"SHOX2","k":1,"x":45,"y":0.22},
{"p":"PE","g":"SHOX2","k":2,"x":30,"y":0},{"p":"PE","g":"SHOX2","k":2,"x":34,"y":0},{"p":"PE","g":"SHOX2","k":2,"x":36,"y":0.01},{"p":"PE","g":"SHOX2","k":2,"x":38,"y":0.03},{"p":"PE","g":"SHOX2","k":2,"x":40,"y":0.06},{"p":"PE","g":"SHOX2","k":2,"x":42,"y":0.09},{"p":"PE","g":"SHOX2","k":2,"x":45,"y":0.13},
{"p":"PE","g":"SHOX2","k":3,"x":30,"y":0},{"p":"PE","g":"SHOX2","k":3,"x":34,"y":0},{"p":"PE","g":"SHOX2","k":3,"x":36,"y":0.01},{"p":"PE","g":"SHOX2","k":3,"x":38,"y":0.03},{"p":"PE","g":"SHOX2","k":3,"x":40,"y":0.05},{"p":"PE","g":"SHOX2","k":3,"x":42,"y":0.08},{"p":"PE","g":"SHOX2","k":3,"x":45,"y":0.11},
{"p":"PE","g":"SHOX2","k":4,"x":30,"y":0},{"p":"PE","g":"SHOX2","k":4,"x":34,"y":0},{"p":"PE","g":"SHOX2","k":4,"x":36,"y":0.005},{"p":"PE","g":"SHOX2","k":4,"x":38,"y":0.02},{"p":"PE","g":"SHOX2","k":4,"x":40,"y":0.04},{"p":"PE","g":"SHOX2","k":4,"x":42,"y":0.06},{"p":"PE","g":"SHOX2","k":4,"x":45,"y":0.08},
{"p":"PE","g":"SHOX2","k":5,"x":30,"y":0},{"p":"PE","g":"SHOX2","k":5,"x":34,"y":0},{"p":"PE","g":"SHOX2","k":5,"x":36,"y":0.005},{"p":"PE","g":"SHOX2","k":5,"x":38,"y":0.01},{"p":"PE","g":"SHOX2","k":5,"x":40,"y":0.02},{"p":"PE","g":"SHOX2","k":5,"x":42,"y":0.03},{"p":"PE","g":"SHOX2","k":5,"x":45,"y":0.04},
{"p":"PE","g":"SHOX2","k":6,"x":30,"y":0},{"p":"PE","g":"SHOX2","k":6,"x":34,"y":0},{"p":"PE","g":"SHOX2","k":6,"x":36,"y":0},{"p":"PE","g":"SHOX2","k":6,"x":38,"y":0.005},{"p":"PE","g":"SHOX2","k":6,"x":40,"y":0.01},{"p":"PE","g":"SHOX2","k":6,"x":42,"y":0.02},{"p":"PE","g":"SHOX2","k":6,"x":45,"y":0.025},
{"p":"Ur","g":"ACTB","k":1,"x":24,"y":0},{"p":"Ur","g":"ACTB","k":1,"x":26,"y":0.01},{"p":"Ur","g":"ACTB","k":1,"x":28,"y":0.04},{"p":"Ur","g":"ACTB","k":1,"x":30,"y":0.17},{"p":"Ur","g":"ACTB","k":1,"x":32,"y":0.39},{"p":"Ur","g":"ACTB","k":1,"x":34,"y":0.58},{"p":"Ur","g":"ACTB","k":1,"x":36,"y":0.7},{"p":"Ur","g":"ACTB","k":1,"x":38,"y":0.77},{"p":"Ur","g":"ACTB","k":1,"x":40,"y":0.83},{"p":"Ur","g":"ACTB","k":1,"x":42,"y":0.88},{"p":"Ur","g":"ACTB","k":1,"x":45,"y":0.93},
{"p":"Ur","g":"ACTB","k":2,"x":24,"y":0},{"p":"Ur","g":"ACTB","k":2,"x":26,"y":0.01},{"p":"Ur","g":"ACTB","k":2,"x":28,"y":0.04},{"p":"Ur","g":"ACTB","k":2,"x":30,"y":0.16},{"p":"Ur","g":"ACTB","k":2,"x":32,"y":0.37},{"p":"Ur","g":"ACTB","k":2,"x":34,"y":0.56},{"p":"Ur","g":"ACTB","k":2,"x":36,"y":0.68},{"p":"Ur","g":"ACTB","k":2,"x":38,"y":0.76},{"p":"Ur","g":"ACTB","k":2,"x":40,"y":0.82},{"p":"Ur","g":"ACTB","k":2,"x":42,"y":0.87},{"p":"Ur","g":"ACTB","k":2,"x":45,"y":0.91},
{"p":"Ur","g":"ACTB","k":3,"x":24,"y":0},{"p":"Ur","g":"ACTB","k":3,"x":26,"y":0.005},{"p":"Ur","g":"ACTB","k":3,"x":28,"y":0.03},{"p":"Ur","g":"ACTB","k":3,"x":30,"y":0.12},{"p":"Ur","g":"ACTB","k":3,"x":32,"y":0.32},{"p":"Ur","g":"ACTB","k":3,"x":34,"y":0.52},{"p":"Ur","g":"ACTB","k":3,"x":36,"y":0.65},{"p":"Ur","g":"ACTB","k":3,"x":38,"y":0.73},{"p":"Ur","g":"ACTB","k":3,"x":40,"y":0.78},{"p":"Ur","g":"ACTB","k":3,"x":42,"y":0.82},{"p":"Ur","g":"ACTB","k":3,"x":45,"y":0.85},
{"p":"Ur","g":"ACTB","k":4,"x":24,"y":0},{"p":"Ur","g":"ACTB","k":4,"x":26,"y":0.005},{"p":"Ur","g":"ACTB","k":4,"x":28,"y":0.03},{"p":"Ur","g":"ACTB","k":4,"x":30,"y":0.11},{"p":"Ur","g":"ACTB","k":4,"x":32,"y":0.3},{"p":"Ur","g":"ACTB","k":4,"x":34,"y":0.5},{"p":"Ur","g":"ACTB","k":4,"x":36,"y":0.64},{"p":"Ur","g":"ACTB","k":4,"x":38,"y":0.72},{"p":"Ur","g":"ACTB","k":4,"x":40,"y":0.77},{"p":"Ur","g":"ACTB","k":4,"x":42,"y":0.8},{"p":"Ur","g":"ACTB","k":4,"x":45,"y":0.83},
{"p":"Ur","g":"ACTB","k":5,"x":24,"y":0},{"p":"Ur","g":"ACTB","k":5,"x":26,"y":0.005},{"p":"Ur","g":"ACTB","k":5,"x":28,"y":0.02},{"p":"Ur","g":"ACTB","k":5,"x":30,"y":0.09},{"p":"Ur","g":"ACTB","k":5,"x":32,"y":0.27},{"p":"Ur","g":"ACTB","k":5,"x":34,"y":0.47},{"p":"Ur","g":"ACTB","k":5,"x":36,"y":0.62},{"p":"Ur","g":"ACTB","k":5,"x":38,"y":0.71},{"p":"Ur","g":"ACTB","k":5,"x":40,"y":0.76},{"p":"Ur","g":"ACTB","k":5,"x":42,"y":0.79},{"p":"Ur","g":"ACTB","k":5,"x":45,"y":0.81},
{"p":"Ur","g":"ACTB","k":6,"x":24,"y":0},{"p":"Ur","g":"ACTB","k":6,"x":26,"y":0.005},{"p":"Ur","g":"ACTB","k":6,"x":28,"y":0.02},{"p":"Ur","g":"ACTB","k":6,"x":30,"y":0.08},{"p":"Ur","g":"ACTB","k":6,"x":32,"y":0.25},{"p":"Ur","g":"ACTB","k":6,"x":34,"y":0.45},{"p":"Ur","g":"ACTB","k":6,"x":36,"y":0.6},{"p":"Ur","g":"ACTB","k":6,"x":38,"y":0.69},{"p":"Ur","g":"ACTB","k":6,"x":40,"y":0.74},{"p":"Ur","g":"ACTB","k":6,"x":42,"y":0.76},{"p":"Ur","g":"ACTB","k":6,"x":45,"y":0.77},
{"p":"Ur","g":"SEPT9","k":1,"x":30,"y":0},{"p":"Ur","g":"SEPT9","k":1,"x":32,"y":0.005},{"p":"Ur","g":"SEPT9","k":1,"x":34,"y":0.025},{"p":"Ur","g":"SEPT9","k":1,"x":36,"y":0.07},{"p":"Ur","g":"SEPT9","k":1,"x":38,"y":0.14},{"p":"Ur","g":"SEPT9","k":1,"x":40,"y":0.22},{"p":"Ur","g":"SEPT9","k":1,"x":42,"y":0.29},{"p":"Ur","g":"SEPT9","k":1,"x":45,"y":0.38},
{"p":"Ur","g":"SEPT9","k":2,"x":30,"y":0},{"p":"Ur","g":"SEPT9","k":2,"x":32,"y":0.005},{"p":"Ur","g":"SEPT9","k":2,"x":34,"y":0.02},{"p":"Ur","g":"SEPT9","k":2,"x":36,"y":0.06},{"p":"Ur","g":"SEPT9","k":2,"x":38,"y":0.13},{"p":"Ur","g":"SEPT9","k":2,"x":40,"y":0.21},{"p":"Ur","g":"SEPT9","k":2,"x":42,"y":0.28},{"p":"Ur","g":"SEPT9","k":2,"x":45,"y":0.36},
{"p":"Ur","g":"SEPT9","k":3,"x":30,"y":0},{"p":"Ur","g":"SEPT9","k":3,"x":32,"y":0.005},{"p":"Ur","g":"SEPT9","k":3,"x":34,"y":0.02},{"p":"Ur","g":"SEPT9","k":3,"x":36,"y":0.06},{"p":"Ur","g":"SEPT9","k":3,"x":38,"y":0.12},{"p":"Ur","g":"SEPT9","k":3,"x":40,"y":0.2},{"p":"Ur","g":"SEPT9","k":3,"x":42,"y":0.27},{"p":"Ur","g":"SEPT9","k":3,"x":45,"y":0.34},
{"p":"Ur","g":"SEPT9","k":4,"x":30,"y":0},{"p":"Ur","g":"SEPT9","k":4,"x":32,"y":0},{"p":"Ur","g":"SEPT9","k":4,"x":34,"y":0.01},{"p":"Ur","g":"SEPT9","k":4,"x":36,"y":0.04},{"p":"Ur","g":"SEPT9","k":4,"x":38,"y":0.09},{"p":"Ur","g":"SEPT9","k":4,"x":40,"y":0.15},{"p":"Ur","g":"SEPT9","k":4,"x":42,"y":0.2},{"p":"Ur","g":"SEPT9","k":4,"x":45,"y":0.27},
{"p":"Ur","g":"SEPT9","k":5,"x":30,"y":0},{"p":"Ur","g":"SEPT9","k":5,"x":32,"y":0},{"p":"Ur","g":"SEPT9","k":5,"x":34,"y":0.01},{"p":"Ur","g":"SEPT9","k":5,"x":36,"y":0.035},{"p":"Ur","g":"SEPT9","k":5,"x":38,"y":0.08},{"p":"Ur","g":"SEPT9","k":5,"x":40,"y":0.13},{"p":"Ur","g":"SEPT9","k":5,"x":42,"y":0.18},{"p":"Ur","g":"SEPT9","k":5,"x":45,"y":0.25},
{"p":"Ur","g":"SHOX2","k":1,"x":32,"y":0},{"p":"Ur","g":"SHOX2","k":1,"x":34,"y":0.005},{"p":"Ur","g":"SHOX2","k":1,"x":36,"y":0.02},{"p":"Ur","g":"SHOX2","k":1,"x":38,"y":0.06},{"p":"Ur","g":"SHOX2","k":1,"x":40,"y":0.11},{"p":"Ur","g":"SHOX2","k":1,"x":42,"y":0.17},{"p":"Ur","g":"SHOX2","k":1,"x":45,"y":0.27},
{"p":"Ur","g":"SHOX2","k":2,"x":32,"y":0},{"p":"Ur","g":"SHOX2","k":2,"x":34,"y":0.005},{"p":"Ur","g":"SHOX2","k":2,"x":36,"y":0.02},{"p":"Ur","g":"SHOX2","k":2,"x":38,"y":0.05},{"p":"Ur","g":"SHOX2","k":2,"x":40,"y":0.1},{"p":"Ur","g":"SHOX2","k":2,"x":42,"y":0.15},{"p":"Ur","g":"SHOX2","k":2,"x":45,"y":0.24},
{"p":"Ur","g":"SHOX2","k":3,"x":32,"y":0},{"p":"Ur","g":"SHOX2","k":3,"x":34,"y":0},{"p":"Ur","g":"SHOX2","k":3,"x":36,"y":0.01},{"p":"Ur","g":"SHOX2","k":3,"x":38,"y":0.03},{"p":"Ur","g":"SHOX2","k":3,"x":40,"y":0.07},{"p":"Ur","g":"SHOX2","k":3,"x":42,"y":0.11},{"p":"Ur","g":"SHOX2","k":3,"x":45,"y":0.19},
{"p":"Ur","g":"SHOX2","k":4,"x":32,"y":0},{"p":"Ur","g":"SHOX2","k":4,"x":34,"y":0},{"p":"Ur","g":"SHOX2","k":4,"x":36,"y":0.01},{"p":"Ur","g":"SHOX2","k":4,"x":38,"y":0.03},{"p":"Ur","g":"SHOX2","k":4,"x":40,"y":0.06},{"p":"Ur","g":"SHOX2","k":4,"x":42,"y":0.1},{"p":"Ur","g":"SHOX2","k":4,"x":45,"y":0.15},
{"p":"Ur","g":"SHOX2","k":5,"x":32,"y":0},{"p":"Ur","g":"SHOX2","k":5,"x":34,"y":0},{"p":"Ur","g":"SHOX2","k":5,"x":36,"y":0.01},{"p":"Ur","g":"SHOX2","k":5,"x":38,"y":0.02},{"p":"Ur","g":"SHOX2","k":5,"x":40,"y":0.05},{"p":"Ur","g":"SHOX2","k":5,"x":42,"y":0.08},{"p":"Ur","g":"SHOX2","k":5,"x":45,"y":0.13},
{"p":"Ur","g":"SHOX2","k":6,"x":32,"y":0},{"p":"Ur","g":"SHOX2","k":6,"x":34,"y":0},{"p":"Ur","g":"SHOX2","k":6,"x":36,"y":0.005},{"p":"Ur","g":"SHOX2","k":6,"x":38,"y":0.01},{"p":"Ur","g":"SHOX2","k":6,"x":40,"y":0.015},{"p":"Ur","g":"SHOX2","k":6,"x":42,"y":0.02},{"p":"Ur","g":"SHOX2","k":6,"x":45,"y":0.02}
]
},
"columns": 1,
"align": "none",
"spacing": 29,
"concat": [
{
  "data": {"name": "yields"},
  "width": 410, "height": 290,
  "title": {"text": "A", "anchor": "start", "fontSize": 30, "fontWeight": "bold", "color": "#000", "baseline": "alphabetic", "offset": -11, "dx": 3},
  "encoding": {
    "x": {"field": "t", "type": "nominal", "sort": ["Plasma", "Serum", "Ascites", "Pleural Effusion", "Urine"], "scale": {"paddingInner": 0.7, "paddingOuter": 0.547, "align": 0.704}, "axis": {"title": null, "labelAngle": -53, "labelExpr": "split(datum.label, ' ')", "tickSize": 7, "labelPadding": 4, "domainDash": [0, 36, 374, 1000]}},
    "xOffset": {"field": "r", "type": "nominal", "scale": {"paddingInner": 0, "paddingOuter": 0}}
  },
  "layer": [
    {"mark": {"type": "rule", "color": "black", "strokeWidth": 1.4},
     "encoding": {"y": {"field": "lo", "type": "quantitative", "scale": {"domain": [0, 1000]}, "axis": {"title": ["DNA Yield (CFF Assay)", "[ng/3ml]"], "values": [0, 200, 400, 600, 800, 1000], "format": "d", "offset": -36, "tickSize": 8, "labelPadding": 11, "titlePadding": 4, "titleLineHeight": 31}}, "y2": {"field": "hi"}}},
    {"mark": {"type": "tick", "orient": "horizontal", "color": "black", "size": 18, "thickness": 1.5},
     "encoding": {"y": {"field": "lo", "type": "quantitative"}}},
    {"mark": {"type": "tick", "orient": "horizontal", "color": "black", "size": 18, "thickness": 1.5},
     "encoding": {"y": {"field": "hi", "type": "quantitative"}}},
    {"mark": {"type": "point", "shape": "triangle-up", "filled": false, "stroke": "black", "strokeWidth": 1.5, "size": 170, "opacity": 1},
     "encoding": {"y": {"field": "m", "type": "quantitative"}}}
  ]
},
{
  "title": {"text": "B", "anchor": "start", "fontSize": 30, "fontWeight": "bold", "color": "#000", "baseline": "alphabetic", "offset": -39, "dx": 3},
  "columns": 2,
  "spacing": {"row": 24, "column": -3},
  "concat": [
    {"data": {"name": "curves"}, "transform": [{"filter": "datum.p === 'Pl'"}], "width": 239, "height": 259, "title": "Plasma",
     "mark": {"type": "line", "interpolate": "monotone", "strokeWidth": 1.2},
     "encoding": {
       "x": {"field": "x", "type": "quantitative", "scale": {"domain": [20, 45]}, "axis": {"title": "Cycles", "values": [20, 25, 30, 35, 40, 45], "titlePadding": 8}},
       "y": {"field": "y", "type": "quantitative", "scale": {"domain": [0, 1]}, "axis": {"title": "Normalized Intensity", "values": [0, 0.2, 0.4, 0.6, 0.8, 1], "format": "~g", "titlePadding": 18}},
       "color": {"field": "g", "type": "nominal", "scale": {"domain": ["ACTB", "SEPT9", "SHOX2"], "range": ["#ff0000", "#000000", "#008000"]}, "legend": {"title": null, "orient": "none", "legendX": 400, "legendY": 1469, "symbolType": "stroke", "symbolSize": 1600, "symbolStrokeWidth": 5, "clipHeight": 24, "labelFontSize": 24, "labelFontStyle": "italic", "labelColor": "#222", "labelOffset": 14, "rowPadding": 4, "padding": 0}},
       "detail": {"field": "k", "type": "nominal"}}},
    {"data": {"name": "curves"}, "transform": [{"filter": "datum.p === 'Se'"}], "width": 239, "height": 259, "title": "Serum",
     "mark": {"type": "line", "interpolate": "monotone", "strokeWidth": 1.2},
     "encoding": {
       "x": {"field": "x", "type": "quantitative", "scale": {"domain": [20, 45]}, "axis": {"title": "Cycles", "values": [20, 25, 30, 35, 40, 45], "titlePadding": 8}},
       "y": {"field": "y", "type": "quantitative", "scale": {"domain": [0, 1]}, "axis": {"title": null, "values": [0, 0.2, 0.4, 0.6, 0.8, 1], "format": "~g"}},
       "color": {"field": "g", "type": "nominal", "scale": {"domain": ["ACTB", "SEPT9", "SHOX2"], "range": ["#ff0000", "#000000", "#008000"]}, "legend": {"title": null, "orient": "none", "legendX": 400, "legendY": 1469, "symbolType": "stroke", "symbolSize": 1600, "symbolStrokeWidth": 5, "clipHeight": 24, "labelFontSize": 24, "labelFontStyle": "italic", "labelColor": "#222", "labelOffset": 14, "rowPadding": 4, "padding": 0}},
       "detail": {"field": "k", "type": "nominal"}}},
    {"data": {"name": "curves"}, "transform": [{"filter": "datum.p === 'As'"}], "width": 239, "height": 259, "title": "Ascites",
     "mark": {"type": "line", "interpolate": "monotone", "strokeWidth": 1.2},
     "encoding": {
       "x": {"field": "x", "type": "quantitative", "scale": {"domain": [20, 45]}, "axis": {"title": "Cycles", "values": [20, 25, 30, 35, 40, 45], "titlePadding": 8}},
       "y": {"field": "y", "type": "quantitative", "scale": {"domain": [0, 1]}, "axis": {"title": "Normalized Intensity", "values": [0, 0.2, 0.4, 0.6, 0.8, 1], "format": "~g", "titlePadding": 18}},
       "color": {"field": "g", "type": "nominal", "scale": {"domain": ["ACTB", "SEPT9", "SHOX2"], "range": ["#ff0000", "#000000", "#008000"]}, "legend": {"title": null, "orient": "none", "legendX": 400, "legendY": 1469, "symbolType": "stroke", "symbolSize": 1600, "symbolStrokeWidth": 5, "clipHeight": 24, "labelFontSize": 24, "labelFontStyle": "italic", "labelColor": "#222", "labelOffset": 14, "rowPadding": 4, "padding": 0}},
       "detail": {"field": "k", "type": "nominal"}}},
    {"data": {"name": "curves"}, "transform": [{"filter": "datum.p === 'PE'"}], "width": 239, "height": 259, "title": "Pleural Effusions",
     "mark": {"type": "line", "interpolate": "monotone", "strokeWidth": 1.2},
     "encoding": {
       "x": {"field": "x", "type": "quantitative", "scale": {"domain": [20, 45]}, "axis": {"title": "Cycles", "values": [20, 25, 30, 35, 40, 45], "titlePadding": 8}},
       "y": {"field": "y", "type": "quantitative", "scale": {"domain": [0, 1]}, "axis": {"title": null, "values": [0, 0.2, 0.4, 0.6, 0.8, 1], "format": "~g"}},
       "color": {"field": "g", "type": "nominal", "scale": {"domain": ["ACTB", "SEPT9", "SHOX2"], "range": ["#ff0000", "#000000", "#008000"]}, "legend": {"title": null, "orient": "none", "legendX": 400, "legendY": 1469, "symbolType": "stroke", "symbolSize": 1600, "symbolStrokeWidth": 5, "clipHeight": 24, "labelFontSize": 24, "labelFontStyle": "italic", "labelColor": "#222", "labelOffset": 14, "rowPadding": 4, "padding": 0}},
       "detail": {"field": "k", "type": "nominal"}}},
    {"data": {"name": "curves"}, "transform": [{"filter": "datum.p === 'Ur'"}], "width": 239, "height": 259, "title": "Urine",
     "mark": {"type": "line", "interpolate": "monotone", "strokeWidth": 1.2},
     "encoding": {
       "x": {"field": "x", "type": "quantitative", "scale": {"domain": [20, 45]}, "axis": {"title": "Cycles", "values": [20, 25, 30, 35, 40, 45], "titlePadding": 8}},
       "y": {"field": "y", "type": "quantitative", "scale": {"domain": [0, 1]}, "axis": {"title": "Normalized Intensity", "values": [0, 0.2, 0.4, 0.6, 0.8, 1], "format": "~g", "titlePadding": 18}},
       "color": {"field": "g", "type": "nominal", "scale": {"domain": ["ACTB", "SEPT9", "SHOX2"], "range": ["#ff0000", "#000000", "#008000"]}, "legend": {"title": null, "orient": "none", "legendX": 400, "legendY": 1469, "symbolType": "stroke", "symbolSize": 1600, "symbolStrokeWidth": 5, "clipHeight": 24, "labelFontSize": 24, "labelFontStyle": "italic", "labelColor": "#222", "labelOffset": 14, "rowPadding": 4, "padding": 0}},
       "detail": {"field": "k", "type": "nominal"}}}
  ]
}
]
}
